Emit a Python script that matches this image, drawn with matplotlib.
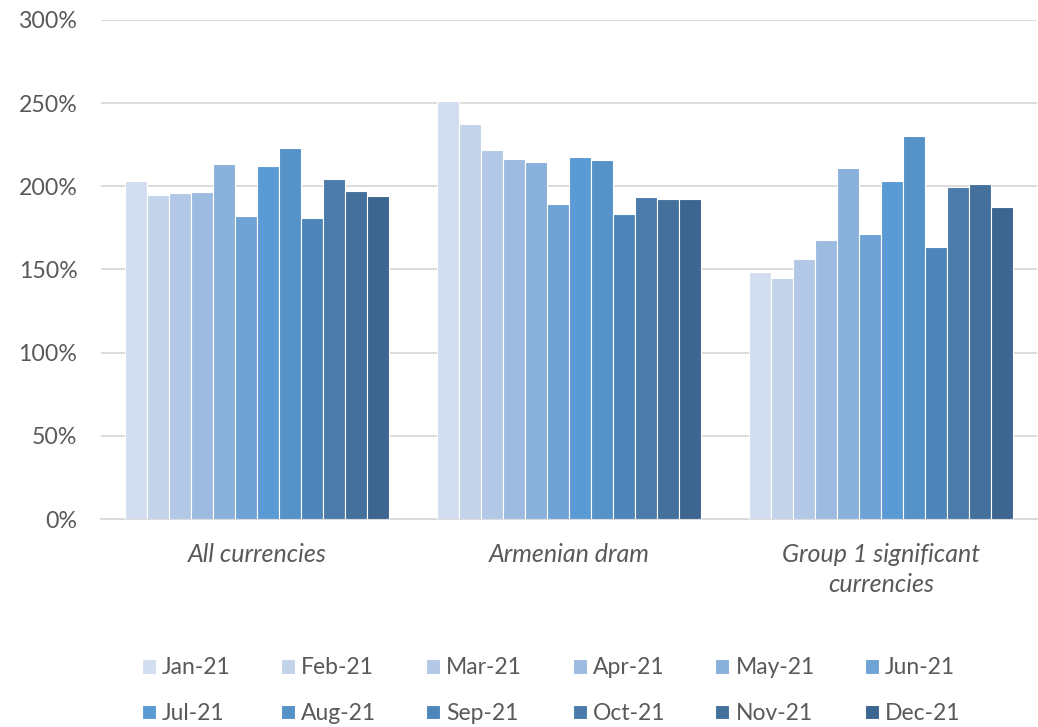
import numpy as np
import matplotlib
matplotlib.use('Agg')
import matplotlib.pyplot as plt
from matplotlib.ticker import FuncFormatter

plt.rcParams['font.family'] = ['Lato', 'DejaVu Sans']

# data (percent)
categories = ['All currencies', 'Armenian dram', 'Group 1 significant\ncurrencies']
months = ['Jan-21', 'Feb-21', 'Mar-21', 'Apr-21', 'May-21', 'Jun-21',
          'Jul-21', 'Aug-21', 'Sep-21', 'Oct-21', 'Nov-21', 'Dec-21']
all_currencies = [203.4, 194.8, 195.8, 196.4, 213.6, 182.0,
                  212.1, 223.3, 180.8, 204.3, 197.2, 194.0]
armenian_dram = [251.4, 237.3, 222.1, 216.7, 214.5, 189.6,
                 217.5, 215.9, 183.6, 193.8, 192.4, 192.2]
group1_signif = [148.3, 144.7, 156.5, 167.8, 211.1, 171.4,
                 203.4, 230.5, 163.4, 199.5, 201.6, 187.4]
colors = ['#D2DEEF', '#C2D3EA', '#B3C8E6', '#9DBBE1', '#8AB0DC', '#6FA3D6',
          '#5B9BD5', '#5592C8', '#4E86BB', '#4A7BAB', '#43719C', '#3C6690']

values = np.array([all_currencies, armenian_dram, group1_signif])

fig = plt.figure(figsize=(10.38, 7.27), dpi=100)
ax = fig.add_axes([0.0973, 0.2861, 0.9017, 0.6864])

x = np.arange(len(categories))
n = len(months)
group_w = 0.847
bw = group_w / n
handles = []
for i, m in enumerate(months):
    pos = x - group_w / 2 + bw * (i + 0.5)
    h = ax.bar(pos, values[:, i], width=bw, color=colors[i],
               edgecolor='white', linewidth=0.8, label=m, zorder=3)
    handles.append(h)

ax.set_xlim(-0.5, 2.5)
ax.set_ylim(0, 300)
ax.set_yticks(np.arange(0, 301, 50))
ax.yaxis.set_major_formatter(FuncFormatter(lambda v, p: '%d%%' % v))
ax.grid(axis='y', color='#D9D9D9', linewidth=1.3, zorder=0)
for s in ['top', 'right', 'left']:
    ax.spines[s].set_visible(False)
ax.spines['bottom'].set_color('#D9D9D9')
ax.spines['bottom'].set_linewidth(1.3)
ax.tick_params(axis='y', length=0, labelsize=16.7, labelcolor='#595959', pad=17)
ax.tick_params(axis='x', length=0, labelsize=18, labelcolor='#595959', pad=17)
ax.set_xticks(x)
ax.set_xticklabels(categories, fontstyle='italic', linespacing=1.38)

# reorder so rows read Jan..Jun / Jul..Dec
order = []
for c in range(6):
    order += [c, c + 6]
fig.legend([handles[k] for k in order], [months[k] for k in order],
           ncol=6, loc='center', bbox_to_anchor=(0.531, 0.050), frameon=False,
           fontsize=16.5, labelcolor='#595959', handlelength=0.61,
           handleheight=0.61, handletextpad=0.26, columnspacing=2.2,
           labelspacing=1.08)

fig.savefig('out.png', dpi=100)
